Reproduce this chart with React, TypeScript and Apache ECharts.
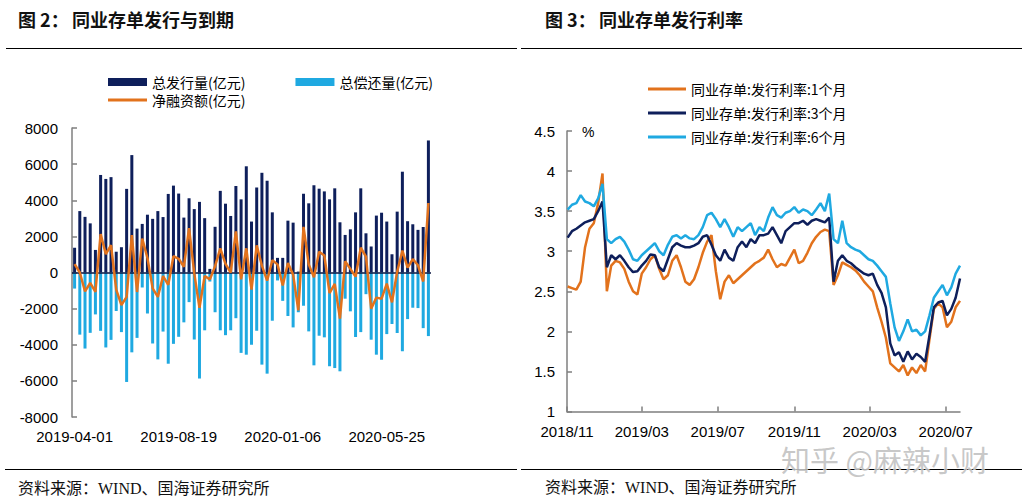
import React, { useEffect, useRef } from 'react';
import * as echarts from 'echarts';

// ---------- Figure 2: weekly NCD issuance / repayment (亿元) ----------
const leftStartDate = [2019, 3, 1]; // 2019-04-01, weekly
const issuance = [
  1370, 3400, 3080, 2720, 1250, 5400, 5180, 5280, 1150, 1400,
  4630, 6500, 2430, 2690, 3200, 2970, 3400, 3070, 4350, 4810,
  4370, 3040, 4110, 3510, 3910, 3010, 200, 2530, 4520, 3810,
  3130, 4790, 4050, 5880, 2820, 4710, 5520, 5080, 3330, 810,
  810, 2870, 2760, 50, 4360, 3830, 4830, 4640, 4490, 4050,
  4660, 2780, 2080, 2390, 3330, 4660, 2170, 1440, 3150, 3310,
  2820, 1010, 3370, 5580, 2840, 2670, 2360, 2520, 7310,
];
const repayment = [
  -890, -3440, -4210, -3340, -2320, -3230, -4150, -3730, -2130, -3300,
  -6060, -4420, -3620, -830, -2270, -3930, -4810, -3270, -5050, -3950,
  -3560, -2760, -1640, -3710, -5870, -3200, -500, -2200, -3200, -3470,
  -3200, -2530, -4450, -4550, -4000, -3230, -5100, -5600, -2670, -440,
  -1570, -2410, -3040, -2200, -1840, -3260, -5140, -3500, -3590, -5190,
  -5290, -5470, -1450, -2150, -3570, -3300, -1200, -3720, -4550, -4830,
  -3410, -2850, -3350, -4360, -2580, -1950, -1970, -3080, -3520,
];
const netFinancing = [
  460, 0, -1050, -580, -1070, 2130, 1020, 1520, -950, -1800,
  -1350, 2070, -1080, 1880, 800, -880, -1350, -200, -680, 900,
  760, 320, 2450, -50, -1950, -190, -380, 350, 1330, 480,
  0, 2270, -380, 1340, -950, 1500, 380, -450, 680, 450,
  -720, 520, -120, -2100, 2530, 450, -260, 1150, 940, -1140,
  -630, -2550, 620, 200, -230, 1370, 880, -2000, -1390, -1450,
  -620, -1650, 40, 1210, 270, 740, 400, -500, 3850,
];

// ---------- Figure 3: NCD issuance rates (%), weekly from 2018-11-02 ----------
const rightStartDate = [2018, 10, 2];
const rate1M = [
  2.56, 2.54, 2.52, 2.62, 3.05, 3.28, 3.35, 3.6, 3.97, 2.5,
  2.82, 2.88, 2.86, 2.78, 2.62, 2.5, 2.46, 2.72, 2.8, 2.9,
  2.95, 2.78, 2.65, 2.7, 2.88, 2.95, 2.8, 2.62, 2.58, 2.65,
  2.8, 2.98, 3.12, 3.2, 2.75, 2.4, 2.62, 2.7, 2.6, 2.65,
  2.7, 2.75, 2.8, 2.85, 2.88, 2.92, 3.02, 2.9, 2.8, 2.84,
  2.82, 2.92, 3.02, 2.85, 2.88, 2.98, 3.1, 3.18, 3.24, 3.27,
  3.25, 2.58, 2.7, 2.86, 2.83, 2.8, 2.76, 2.7, 2.62, 2.56,
  2.5, 2.3, 2.12, 1.92, 1.6, 1.55, 1.5, 1.58, 1.45, 1.55,
  1.48, 1.58, 1.5, 1.9, 2.28, 2.35, 2.3, 2.05, 2.12, 2.3,
  2.38,
];
const rate3M = [
  3.17, 3.25, 3.28, 3.32, 3.36, 3.38, 3.4, 3.5, 3.62, 2.8,
  2.95, 2.9, 2.95, 2.88, 2.8, 2.74, 2.75, 2.82, 2.88, 2.96,
  2.95, 2.8, 2.75, 2.9, 3.05, 3.1, 3.07, 3.05, 3.05, 3.07,
  3.1, 3.18, 3.2, 3.08, 2.95, 2.88, 3.02, 2.92, 2.88, 3.05,
  3.12, 3.05, 3.15, 3.1, 3.2, 3.2, 3.22, 3.3, 3.2, 3.1,
  3.25, 3.3, 3.35, 3.35, 3.38, 3.33, 3.38, 3.4, 3.38, 3.36,
  3.42, 2.62, 2.88, 2.95, 2.88, 2.85, 2.8, 2.76, 2.72, 2.7,
  2.72, 2.58, 2.48, 2.3, 1.85, 1.7, 1.74, 1.62, 1.75, 1.65,
  1.72, 1.68, 1.62, 1.95, 2.3, 2.36, 2.38, 2.2, 2.28, 2.42,
  2.66,
];
const rate6M = [
  3.52, 3.58, 3.6, 3.7, 3.62, 3.6, 3.56, 3.66, 3.84, 3.15,
  3.1, 3.15, 3.18, 3.12, 3.02, 2.9, 2.88, 2.95, 3.0, 3.05,
  3.1, 3.0, 2.95, 3.08, 3.18, 3.2, 3.16, 3.2, 3.16, 3.15,
  3.2, 3.3, 3.45, 3.48, 3.4, 3.3, 3.4, 3.3, 3.18, 3.3,
  3.25, 3.3, 3.35, 3.2, 3.3, 3.25, 3.42, 3.55, 3.45, 3.42,
  3.48, 3.5, 3.55, 3.48, 3.52, 3.5, 3.45, 3.52, 3.6, 3.5,
  3.72, 3.15, 3.1, 3.38, 3.1, 3.05, 3.02, 3.0, 2.95, 2.9,
  2.88, 2.82, 2.75, 2.68, 2.35, 2.05, 1.88, 2.0, 2.15, 2.0,
  2.02, 1.95, 2.0, 2.2, 2.42, 2.5, 2.58, 2.45, 2.55, 2.72,
  2.82,
];
const rightAxisStart = [2018, 10, 1];
const rightAxisEnd = [2020, 6, 24];
const rightTickMonths = [
  [2018, 10], [2019, 2], [2019, 6], [2019, 10], [2020, 2], [2020, 6],
];

const NAVY = '#0E1F5B';
const LIGHT = '#1FA9E1';
const ORANGE = '#E2721C';
const AXIS_GRAY = '#7F7F7F';
const SANS = '"Liberation Sans", Arial, sans-serif';
const CJK = '"Noto Sans CJK SC", "Liberation Sans", sans-serif';
const SERIF = '"Liberation Serif", "Noto Sans CJK SC", serif';

const DAY = 86400000;
const pad = (n: number) => (n < 10 ? '0' + n : '' + n);
const leftDates = issuance.map((_, i) => {
  const d = new Date(leftStartDate[0], leftStartDate[1], leftStartDate[2] + 7 * i);
  return `${d.getFullYear()}-${pad(d.getMonth() + 1)}-${pad(d.getDate())}`;
});
const base = new Date(rightAxisStart[0], rightAxisStart[1], rightAxisStart[2]).getTime();
const dayOf = (y: number, m: number, d: number) =>
  Math.round((new Date(y, m, d).getTime() - base) / DAY);
const rateDays = rate1M.map((_, i) =>
  dayOf(rightStartDate[0], rightStartDate[1], rightStartDate[2] + 7 * i)
);
const tickDays = rightTickMonths.map(([y, m]) => dayOf(y, m, 1));
const axisMaxDay = dayOf(rightAxisEnd[0], rightAxisEnd[1], rightAxisEnd[2]);

const pair = (arr: number[]) => arr.map((v, i) => [rateDays[i], v]);
const dayLabel = (v: number) => {
  const d = new Date(base + Math.round(v) * DAY + 12 * 3600000);
  return `${d.getFullYear()}/${pad(d.getMonth() + 1)}`;
};

export default function App() {
  const ref = useRef<HTMLDivElement>(null);
  useEffect(() => {
    if (!ref.current) return;
    const chart = echarts.init(ref.current, null, { renderer: 'svg' });
    const titleStyle = {
      fontSize: 18,
      fontWeight: 'bold',
      fontFamily: CJK,
      fill: '#111',
      verticalAlign: 'middle',
    };
    const footStyle = {
      fontSize: 16,
      fontFamily: SERIF,
      fill: '#111',
      verticalAlign: 'middle',
    };
    const option: any = {
      animation: false,
      backgroundColor: '#fff',
      textStyle: { fontFamily: SANS },
      grid: [
        { left: 72, top: 128, width: 359, height: 289 },
        { left: 567, top: 131, width: 393, height: 280.5 },
      ],
      xAxis: [
        {
          type: 'category',
          gridIndex: 0,
          data: leftDates,
          boundaryGap: true,
          axisLine: { show: false },
          axisTick: { show: false },
          splitLine: { show: false },
          axisLabel: { interval: 19, margin: 12, fontSize: 15, color: '#000', fontFamily: SANS },
        },
        {
          type: 'value',
          gridIndex: 1,
          min: 0,
          max: axisMaxDay,
          splitLine: { show: false },
          axisLine: { show: true, onZero: false, lineStyle: { color: AXIS_GRAY, width: 1.5 } },
          axisTick: {
            show: true,
            inside: true,
            length: 5,
            customValues: tickDays,
            lineStyle: { color: AXIS_GRAY, width: 1.5 },
          },
          axisLabel: {
            customValues: tickDays,
            margin: 12,
            fontSize: 15,
            color: '#000',
            fontFamily: SANS,
            formatter: dayLabel,
          },
        },
      ],
      yAxis: [
        {
          type: 'value',
          gridIndex: 0,
          min: -8000,
          max: 8000,
          interval: 2000,
          splitLine: { show: false },
          axisLine: { show: true, lineStyle: { color: AXIS_GRAY, width: 1.5 } },
          axisTick: { show: true, inside: true, length: 5, lineStyle: { color: AXIS_GRAY, width: 1.5 } },
          axisLabel: {
            margin: 14,
            fontSize: 15,
            color: '#000',
            fontFamily: SANS,
            formatter: (v: number) => String(v),
          },
        },
        {
          type: 'value',
          gridIndex: 1,
          min: 1,
          max: 4.5,
          interval: 0.5,
          splitLine: { show: false },
          axisLine: { show: true, onZero: false, lineStyle: { color: AXIS_GRAY, width: 1.5 } },
          axisTick: { show: true, inside: true, length: 5, lineStyle: { color: AXIS_GRAY, width: 1.5 } },
          axisLabel: { margin: 12, fontSize: 15, color: '#000', fontFamily: SANS },
        },
      ],
      legend: [
        {
          data: ['总发行量(亿元)', '总偿还量(亿元)'],
          left: 108,
          top: 75,
          padding: 0,
          itemWidth: 39,
          itemHeight: 8,
          itemGap: 50,
          icon: 'rect',
          textStyle: { fontSize: 14, fontFamily: CJK, color: '#000' },
        },
        {
          data: ['净融资额(亿元)'],
          left: 108,
          top: 93,
          padding: 0,
          itemWidth: 39,
          itemHeight: 3,
          icon: 'rect',
          textStyle: { fontSize: 14, fontFamily: CJK, color: '#000' },
        },
        {
          data: ['同业存单:发行利率:1个月', '同业存单:发行利率:3个月', '同业存单:发行利率:6个月'],
          orient: 'vertical',
          left: 648,
          top: 82,
          padding: 0,
          itemWidth: 38,
          itemHeight: 3,
          itemGap: 10,
          icon: 'rect',
          textStyle: { fontSize: 14, fontFamily: CJK, color: '#000' },
        },
      ],
      series: [
        {
          name: '总发行量(亿元)',
          type: 'bar',
          xAxisIndex: 0,
          yAxisIndex: 0,
          data: issuance,
          barWidth: 3,
          barGap: '-100%',
          itemStyle: { color: NAVY },
          markLine: {
            silent: true,
            symbol: ['none', 'none'],
            label: { show: false },
            lineStyle: { color: '#0A1540', width: 1.5, type: 'solid' },
            data: [{ yAxis: 0 }],
          },
        },
        {
          name: '总偿还量(亿元)',
          type: 'bar',
          xAxisIndex: 0,
          yAxisIndex: 0,
          data: repayment,
          barWidth: 3,
          barGap: '-100%',
          itemStyle: { color: LIGHT },
        },
        {
          name: '净融资额(亿元)',
          type: 'line',
          xAxisIndex: 0,
          yAxisIndex: 0,
          data: netFinancing,
          showSymbol: false,
          symbol: 'none',
          lineStyle: { color: ORANGE, width: 2.5 },
          itemStyle: { color: ORANGE },
          z: 5,
        },
        {
          name: '同业存单:发行利率:1个月',
          type: 'line',
          xAxisIndex: 1,
          yAxisIndex: 1,
          data: pair(rate1M),
          showSymbol: false,
          symbol: 'none',
          lineStyle: { color: ORANGE, width: 2.5 },
          itemStyle: { color: ORANGE },
        },
        {
          name: '同业存单:发行利率:3个月',
          type: 'line',
          xAxisIndex: 1,
          yAxisIndex: 1,
          data: pair(rate3M),
          showSymbol: false,
          symbol: 'none',
          lineStyle: { color: NAVY, width: 2.5 },
          itemStyle: { color: NAVY },
        },
        {
          name: '同业存单:发行利率:6个月',
          type: 'line',
          xAxisIndex: 1,
          yAxisIndex: 1,
          data: pair(rate6M),
          showSymbol: false,
          symbol: 'none',
          lineStyle: { color: LIGHT, width: 2.5 },
          itemStyle: { color: LIGHT },
        },
      ],
      graphic: [
        { type: 'text', x: 18, y: 19, style: { ...titleStyle, text: '图 2：' } },
        { type: 'text', x: 72, y: 19, style: { ...titleStyle, text: '同业存单发行与到期' } },
        { type: 'text', x: 545, y: 19, style: { ...titleStyle, text: '图 3：' } },
        { type: 'text', x: 599, y: 19, style: { ...titleStyle, text: '同业存单发行利率' } },
        { type: 'line', shape: { x1: 6, y1: 48.5, x2: 517, y2: 48.5 }, style: { stroke: '#000', lineWidth: 1 } },
        { type: 'line', shape: { x1: 521, y1: 48.5, x2: 1022, y2: 48.5 }, style: { stroke: '#000', lineWidth: 1 } },
        { type: 'line', shape: { x1: 5, y1: 469.5, x2: 517, y2: 469.5 }, style: { stroke: '#000', lineWidth: 1 } },
        { type: 'line', shape: { x1: 521, y1: 469.5, x2: 1022, y2: 469.5 }, style: { stroke: '#000', lineWidth: 1 } },
        { type: 'text', x: 18, y: 488, style: { ...footStyle, text: '资料来源：WIND、国海证券研究所' } },
        { type: 'text', x: 545, y: 487, style: { ...footStyle, text: '资料来源：WIND、国海证券研究所' } },
        {
          type: 'text',
          x: 582,
          y: 132,
          style: { text: '%', fontSize: 14, fontFamily: SANS, fill: '#000', verticalAlign: 'middle' },
        },
        {
          type: 'text',
          x: 781,
          y: 459,
          z: 100,
          style: {
            text: '知乎 @麻辣小财',
            fontSize: 29,
            fontFamily: CJK,
            fill: 'rgba(190,190,190,0.85)',
            stroke: 'rgba(255,255,255,0.7)',
            lineWidth: 1,
            verticalAlign: 'middle',
          },
        },
      ],
    };
    chart.setOption(option);
    return () => chart.dispose();
  }, []);
  return (
    <div
      ref={ref}
      style={{ position: 'fixed', left: 0, top: 0, width: 1029, height: 504, background: '#fff' }}
    />
  );
}
